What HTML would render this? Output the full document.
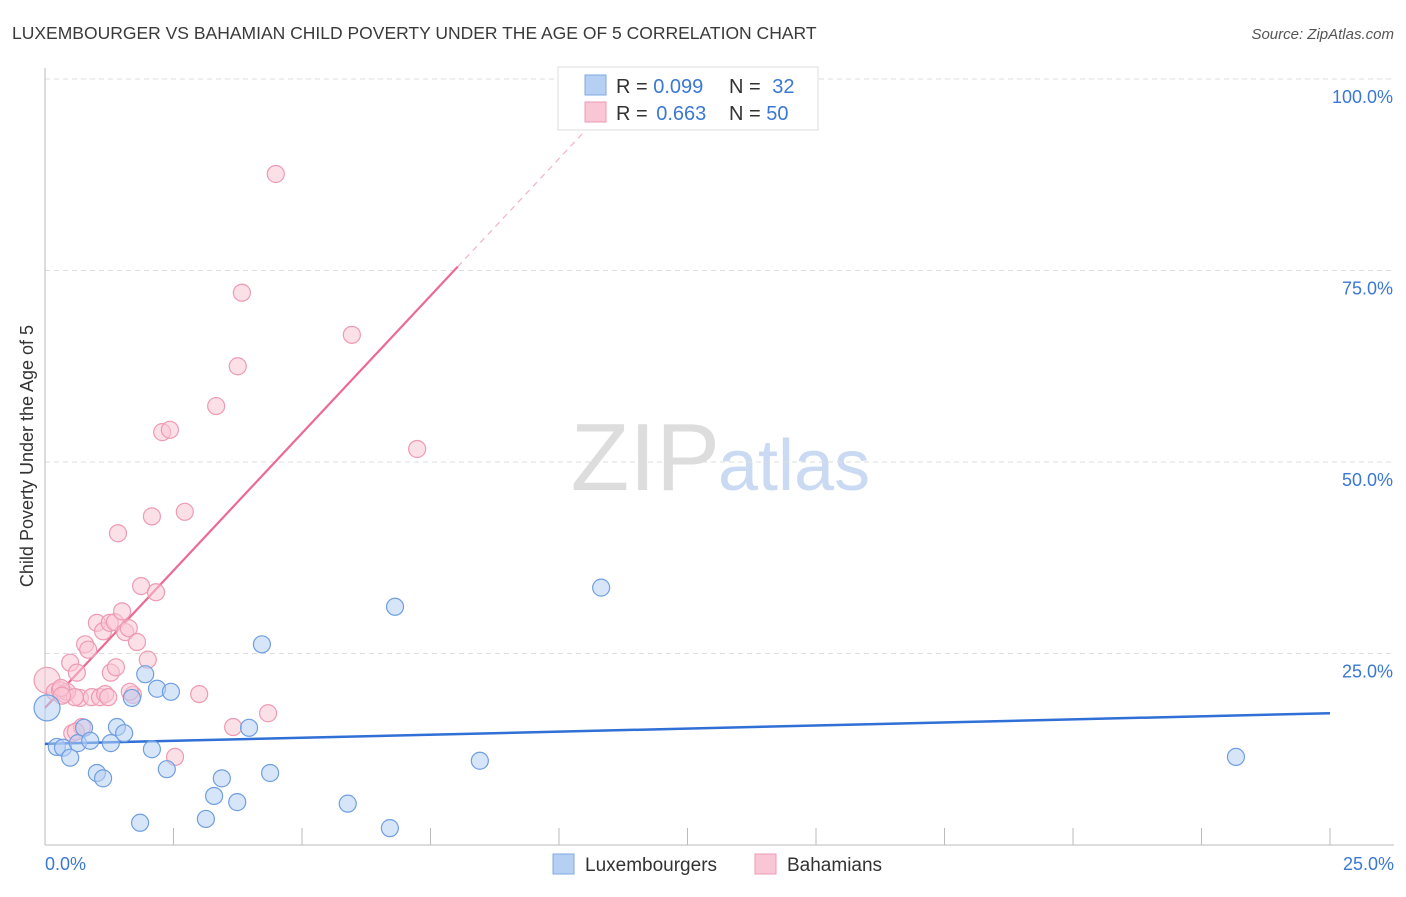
<!DOCTYPE html>
<html><head><meta charset="utf-8"><style>
body{margin:0;background:#fff;font-family:"Liberation Sans",sans-serif;}
svg text{font-family:"Liberation Sans",sans-serif;}
</style></head><body>
<svg id="chart" width="1406" height="892" viewBox="0 0 1406 892" xmlns="http://www.w3.org/2000/svg">
<text x="12" y="39" font-size="17.5" fill="#3a3a3a">LUXEMBOURGER VS BAHAMIAN CHILD POVERTY UNDER THE AGE OF 5 CORRELATION CHART</text>
<text x="1394" y="39" font-size="15" fill="#555" text-anchor="end" font-style="italic">Source: ZipAtlas.com</text>
<text transform="translate(33,456) rotate(-90)" font-size="18" fill="#333" text-anchor="middle">Child Poverty Under the Age of 5</text>
<text x="720" y="490" font-size="96" text-anchor="end" fill="#ddd" font-family="Liberation Serif">ZIP</text>
<text x="718" y="490" font-size="72" fill="#c9daf2">atlas</text>
<g id="grid"></g><g id="axes"></g><g id="trend"></g><g id="pts"></g>
<g>
<rect x="558" y="67" width="260" height="63" fill="#fff" stroke="#ddd"/>
<rect x="585" y="75" width="21" height="20" fill="#b6d0f4" stroke="#7fa8e0"/>
<rect x="585" y="102" width="21" height="20" fill="#f9c6d5" stroke="#ee9ab3"/>
<text x="616" y="93" font-size="20" fill="#333">R = <tspan fill="#3a78d4">0.099</tspan></text>
<text x="729" y="93" font-size="20" fill="#333">N = <tspan fill="#3a78d4" dx="6">32</tspan></text>
<text x="616" y="120" font-size="20" fill="#333">R = <tspan fill="#3a78d4" dx="3">0.663</tspan></text>
<text x="729" y="120" font-size="20" fill="#333">N = <tspan fill="#3a78d4">50</tspan></text>
</g>
<g>
<rect x="553" y="854" width="21" height="20" fill="#b6d0f4" stroke="#7fa8e0"/>
<text x="585" y="871" font-size="19" fill="#333">Luxembourgers</text>
<rect x="755" y="854" width="21" height="20" fill="#f9c6d5" stroke="#ee9ab3"/>
<text x="787" y="871" font-size="19" fill="#333">Bahamians</text>
</g>
</svg>
<script>
const yTicks=[25,50,75,100];
const yTickLabels=["25.0%","50.0%","75.0%","100.0%"];
const xTickVals=[0,2.5,5,7.5,10,12.5,15,17.5,20,22.5,25];
const xLabels=["0.0%","25.0%"];
const luxX=[0.04,0.23,0.35,0.49,0.64,0.76,0.88,1.01,1.13,1.28,1.40,1.54,1.69,1.85,1.95,2.08,2.18,2.37,2.45,3.13,3.29,3.44,3.74,3.97,4.22,4.38,5.89,6.71,6.81,8.46,10.82,23.17];
const luxY=[17.9,12.8,12.7,11.4,13.3,15.3,13.6,9.4,8.7,13.3,15.4,14.6,19.2,2.9,22.3,12.5,20.4,9.9,20.0,3.4,6.4,8.7,5.6,15.3,26.2,9.4,5.4,2.2,31.1,11.0,33.6,11.5];
const bahX=[0.04,0.19,0.29,0.39,0.49,0.53,0.62,0.68,0.78,0.84,0.91,1.01,1.07,1.13,1.17,1.26,1.28,1.38,1.42,1.36,1.50,1.56,1.63,1.71,1.79,1.87,2.00,2.08,2.16,2.28,2.43,2.53,2.72,3.00,3.33,3.66,3.75,3.83,4.34,4.49,5.97,7.24,0.72,1.65,1.23,0.43,0.31,0.58,0.33,0.60];
const bahY=[21.5,20.0,20.2,19.7,23.8,14.6,22.5,19.2,26.2,25.5,19.3,29.0,19.3,27.9,19.7,29.0,22.5,23.2,40.7,29.1,30.5,27.8,28.3,19.6,26.5,33.8,24.2,42.9,33.0,53.9,54.2,11.5,43.5,19.7,57.3,15.4,62.5,72.1,17.2,87.6,66.6,51.7,15.4,20.0,19.3,20.0,20.5,19.3,19.5,14.8];
const luxTrend=[0,13.2,25,17.2];
const bahTrend=[0,17.9,8.03,75.5,10.6,93.9];
const NS="http://www.w3.org/2000/svg";
const X=v=>45+v/25*1285, Y=v=>845-v*7.66;
function mk(tag,attrs,parent){const e=document.createElementNS(NS,tag);for(const k in attrs)e.setAttribute(k,attrs[k]);parent.appendChild(e);return e;}
const grid=document.getElementById('grid'),axes=document.getElementById('axes'),trend=document.getElementById('trend'),pts=document.getElementById('pts');
yTicks.forEach((t,i)=>{
 const l=mk('line',{x1:45,x2:1394,y1:Y(t),y2:Y(t),stroke:'#ddd','stroke-dasharray':'5,4'},grid);
 
 
 const tx=mk('text',{x:1393,y:Y(t)+24,'font-size':18,fill:'#3a78d4','text-anchor':'end'},grid);
 tx.textContent=yTickLabels[i];
 
 
});
const ax=mk('line',{x1:45,x2:45,y1:68,y2:845,stroke:'#bbb'},axes);


const bx=mk('line',{x1:45,x2:1394,y1:845,y2:845,stroke:'#bbb'},axes);


xTickVals.forEach(t=>{
 const l=mk('line',{x1:X(t),x2:X(t),y1:828,y2:845,stroke:'#bbb'},axes);
 
 
});
const xl0=mk('text',{x:45,y:870,'font-size':18,fill:'#3a78d4'},axes);xl0.textContent=xLabels[0];


const xl1=mk('text',{x:1394,y:870,'font-size':18,fill:'#3a78d4','text-anchor':'end'},axes);xl1.textContent=xLabels[1];


function dot(x,y,fill,stroke,r){const c=mk('circle',{cx:X(x),cy:Y(y),r:r,fill:fill,'fill-opacity':0.55,stroke:stroke,'stroke-width':1.2},pts);return c;}
bahX.forEach((x,i)=>{const c=dot(x,bahY[i],'#f9c6d5','#ee9ab3',i==0?13:8.5);
 
 });
luxX.forEach((x,i)=>{const c=dot(x,luxY[i],'#b6d0f4','#6f9fe0',i==0?13:8.5);
 
 });
const lt=mk('line',{x1:X(luxTrend[0]),y1:Y(luxTrend[1]),x2:X(luxTrend[2]),y2:Y(luxTrend[3]),stroke:'#2f6fd6','stroke-width':2.5},trend);


const bt=mk('line',{x1:X(bahTrend[0]),y1:Y(bahTrend[1]),x2:X(bahTrend[2]),y2:Y(bahTrend[3]),stroke:'#ec6a93','stroke-width':2.2},trend);


const bd=mk('line',{x1:X(bahTrend[2]),y1:Y(bahTrend[3]),x2:X(bahTrend[4]),y2:Y(bahTrend[5]),stroke:'#f2b3c6','stroke-width':1.2,'stroke-dasharray':'6,5'},trend);


</script>
</body></html>
